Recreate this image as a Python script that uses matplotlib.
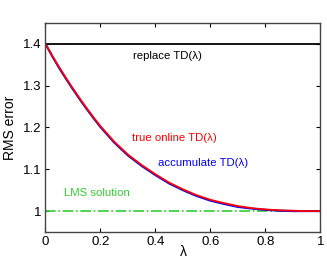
import numpy as np
import matplotlib.pyplot as plt

plt.rcParams['font.family'] = ['Liberation Sans', 'DejaVu Sans']

# RMS error vs lambda
lam = [0.0, 0.025, 0.05, 0.075, 0.1, 0.125, 0.15, 0.175, 0.2, 0.25, 0.3, 0.35, 0.4, 0.45, 0.5,
       0.55, 0.6, 0.65, 0.7, 0.75, 0.8, 0.85, 0.9, 0.95, 1.0]
true_online = [1.400, 1.371, 1.344, 1.318, 1.293, 1.269, 1.246, 1.224, 1.203, 1.166, 1.135,
               1.110, 1.088, 1.068, 1.052, 1.038, 1.027, 1.019, 1.012, 1.007, 1.004, 1.002,
               1.001, 1.000, 1.000]
accumulate = [1.400, 1.370, 1.342, 1.316, 1.291, 1.267, 1.244, 1.222, 1.201, 1.164, 1.133,
              1.108, 1.086, 1.066, 1.050, 1.036, 1.025, 1.017, 1.010, 1.006, 1.003, 1.001,
              1.000, 1.000, 1.000]
replace = 1.4
lms = 1.0

fig = plt.figure(figsize=(3.27, 2.65), dpi=100)
ax = fig.add_axes([0.139, 0.1245, 0.841, 0.789])

ax.plot([0, 1], [replace, replace], color='black', lw=1.3)
ax.plot([0, 1], [lms, lms], color='#33cc33', lw=1.2, ls='-.')
ax.plot(lam, accumulate, color='blue', lw=1.5)
ax.plot(lam, true_online, color='red', lw=1.3)

ax.text(0.445, 1.37, 'replace TD(λ)', color='black', fontsize=8.2, ha='center', va='center')
ax.text(0.47, 1.174, 'true online TD(λ)', color='red', fontsize=8.2, ha='center', va='center')
ax.text(0.574, 1.115, 'accumulate TD(λ)', color='blue', fontsize=8.2, ha='center', va='center')
ax.text(0.186, 1.043, 'LMS solution', color='#33cc33', fontsize=8.2, ha='center', va='center')

ax.set_xlim(0, 1)
ax.set_ylim(0.95, 1.45)
ax.set_xticks([0, 0.2, 0.4, 0.6, 0.8, 1])
ax.set_xticklabels(['0', '0.2', '0.4', '0.6', '0.8', '1'])
ax.set_yticks([1, 1.1, 1.2, 1.3, 1.4])
ax.set_yticklabels(['1', '1.1', '1.2', '1.3', '1.4'])
ax.tick_params(direction='in', top=True, right=True, length=3, labelsize=9.5, pad=3)
for s in ax.spines.values():
    s.set_color('#444444')
    s.set_linewidth(1.0)
ax.set_xlabel('λ', fontsize=10, labelpad=-2)
ax.set_ylabel('RMS error', fontsize=10, labelpad=4)

fig.savefig('out.png', dpi=100)
